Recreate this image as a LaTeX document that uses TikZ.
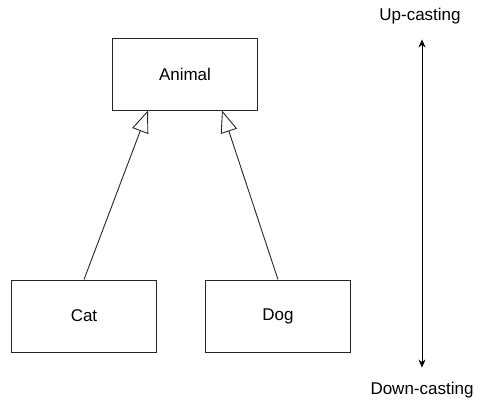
\documentclass[tikz,border=0pt]{standalone}
\usepackage{fontspec}
\setmainfont{Liberation Sans}
\usetikzlibrary{arrows.meta}

\begin{document}
\begin{tikzpicture}[x=1pt,y=-1pt,font=\fontsize{17}{19}\selectfont,
  cls/.style={draw=black!85,line width=0.9pt,minimum width=145pt,minimum height=72pt,inner sep=0pt},
  inherit/.style={-{Triangle[open,length=22pt,width=17pt]},line width=0.9pt,draw=black!85}]
  \useasboundingbox (0,0) rectangle (498,406);
  \node[cls] (animal) at (185,74) {Animal};
  \node[cls] (cat) at (84,316) {Cat};
  \node[cls] (dog) at (278,316) {Dog};
  \node (up) at (420,16) {Up-casting};
  \node (down) at (422,390) {Down-casting};
  \path
    (cat.north) edge[inherit] ([xshift=-37pt]animal.south)
    (dog.north) edge[inherit] ([xshift=37pt]animal.south);
  \draw[{Stealth[length=8pt,width=7pt]}-{Stealth[length=8pt,width=7pt]},line width=0.9pt]
    ([xshift=2pt,yshift=-12pt]up.south) -- ([yshift=11pt]down.north);
\end{tikzpicture}
\end{document}
